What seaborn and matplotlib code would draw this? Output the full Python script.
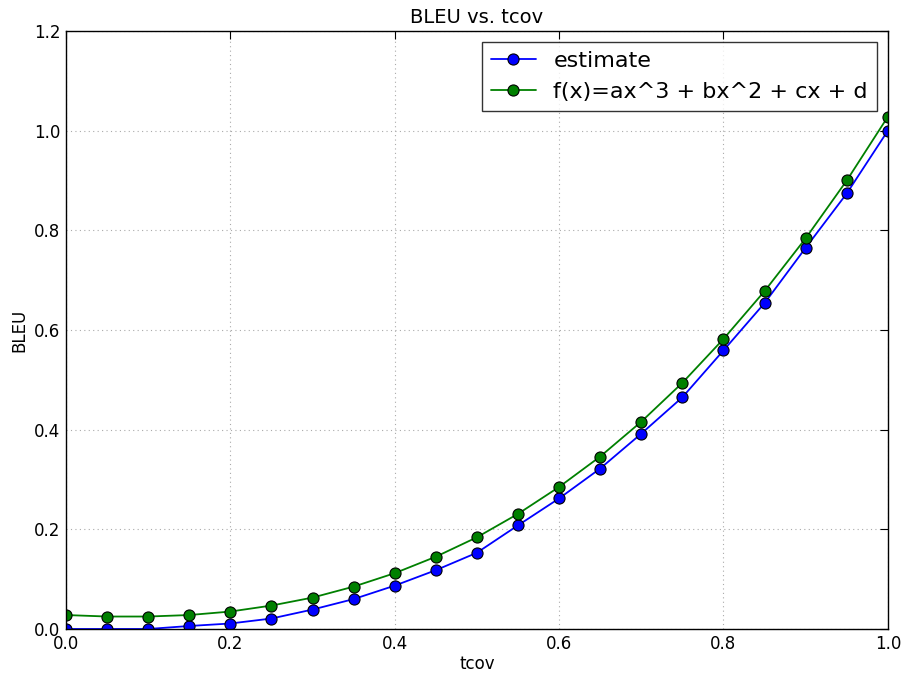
import matplotlib
matplotlib.use("Agg")
import matplotlib.pyplot as plt
import seaborn as sns
import pandas as pd

# data
tcov = [0.0, 0.05, 0.1, 0.15, 0.2, 0.25, 0.3, 0.35, 0.4, 0.45, 0.5,
        0.55, 0.6, 0.65, 0.7, 0.75, 0.8, 0.85, 0.9, 0.95, 1.0]
estimate = [0.0, 0.0, 0.0, 0.006, 0.011, 0.021, 0.039, 0.060, 0.087, 0.118, 0.153,
            0.208, 0.262, 0.322, 0.392, 0.465, 0.559, 0.654, 0.765, 0.874, 1.0]
fit = [0.028, 0.025, 0.025, 0.028, 0.035, 0.047, 0.063, 0.085, 0.112, 0.145, 0.184,
       0.231, 0.285, 0.346, 0.416, 0.494, 0.582, 0.678, 0.784, 0.900, 1.028]
labels = ["estimate", "f(x)=ax^3 + bx^2 + cx + d"]

df = pd.DataFrame({"tcov": tcov * 2,
                   "BLEU": estimate + fit,
                   "series": [labels[0]] * len(tcov) + [labels[1]] * len(tcov)})

sns.set_style("white")
plt.rcParams["font.family"] = ["DejaVu Sans"]
plt.rcParams["text.color"] = "black"
plt.rcParams["axes.labelcolor"] = "black"
plt.rcParams["xtick.color"] = "black"
plt.rcParams["ytick.color"] = "black"

fig, ax = plt.subplots(figsize=(9.06, 6.73), dpi=100)
fig.subplots_adjust(left=0.0728, right=0.980, top=0.954, bottom=0.0654)

sns.lineplot(data=df, x="tcov", y="BLEU", hue="series", ax=ax,
             palette=["#0000ff", "#008000"], marker="o", markersize=8,
             markeredgecolor="black", markeredgewidth=0.8, linewidth=1.3)

ax.set_xlim(0, 1.0)
ax.set_ylim(0, 1.2)
ax.set_xticks([0.0, 0.2, 0.4, 0.6, 0.8, 1.0])
ax.set_yticks([0.0, 0.2, 0.4, 0.6, 0.8, 1.0, 1.2])
ax.tick_params(axis="both", labelsize=12, length=6, width=0.8,
               top=True, right=True, direction="in", pad=4)
ax.grid(True, linestyle=(0, (1, 3)), color="#aaaaaa", linewidth=0.8)
for s in ax.spines.values():
    s.set_color("black")
    s.set_linewidth(1.0)

ax.set_xlabel("tcov", fontsize=12, labelpad=2)
ax.set_ylabel("BLEU", fontsize=12, labelpad=4)
ax.set_title("BLEU vs. tcov", fontsize=14)

leg = ax.legend(title=None, loc="upper right", fontsize=16, frameon=True,
                fancybox=False, borderaxespad=0.5)
leg.get_frame().set_edgecolor("black")
leg.get_frame().set_linewidth(1.0)

fig.savefig("out.png", dpi=100)
